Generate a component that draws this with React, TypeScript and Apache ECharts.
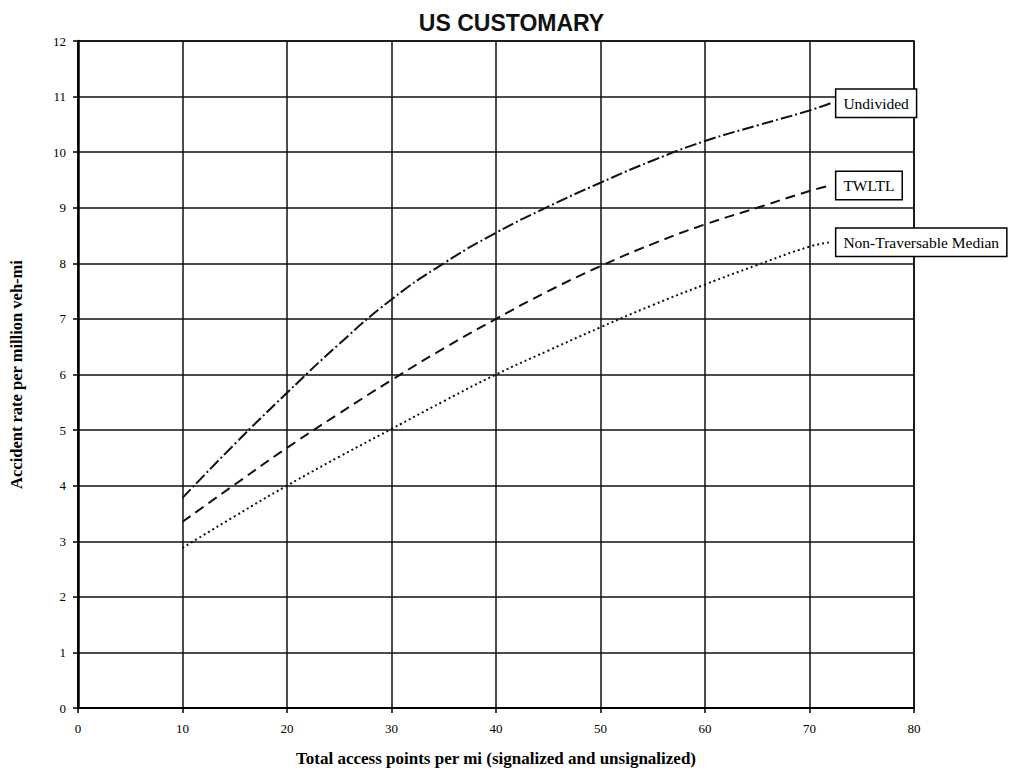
import React, { useEffect, useRef } from "react";
import * as echarts from "echarts";

const xValues = [10, 15, 20, 25, 30, 35, 40, 45, 50, 55, 60, 65, 70, 72];
const undivided = [3.78, 4.75, 5.67, 6.55, 7.35, 8.0, 8.55, 9.02, 9.45, 9.85, 10.2, 10.48, 10.75, 10.88];
const twltl = [3.35, 4.02, 4.68, 5.3, 5.9, 6.47, 7.0, 7.5, 7.95, 8.35, 8.7, 9.0, 9.3, 9.4];
const ntm = [2.88, 3.45, 4.0, 4.52, 5.02, 5.52, 6.0, 6.43, 6.85, 7.25, 7.62, 7.97, 8.3, 8.38];
const seriesNames = ["Undivided", "TWLTL", "Non-Traversable Median"];

export default function App() {
  const ref = useRef<HTMLDivElement>(null);
  useEffect(() => {
    const chart = echarts.init(ref.current!, undefined, { renderer: "svg" });
    const mk = (name: string, vals: number[], dash: number[]) => ({
      name,
      type: "line",
      data: xValues.map((x, i) => [x, vals[i]]),
      smooth: true,
      showSymbol: false,
      lineStyle: { color: "#111", width: 2, type: dash },
      endLabel: {
        show: true,
        formatter: name,
        distance: 6,
        color: "#000",
        fontFamily: "Liberation Serif",
        fontSize: 15.5,
        backgroundColor: "#fff",
        borderColor: "#000",
        borderWidth: 1.5,
        padding: [6, 7, 5, 7],
      },
    });
    chart.setOption({
      animation: false,
      backgroundColor: "#fff",
      title: {
        text: "US CUSTOMARY",
        left: "center",
        top: 6,
        textStyle: { fontFamily: "Liberation Sans", fontWeight: "bold", fontSize: 23, color: "#111" },
      },
      grid: {
        left: 78,
        right: 109,
        top: 41,
        bottom: 66,
        show: true,
        borderColor: "#000",
        borderWidth: 1.5,
        containLabel: false,
        outerBoundsMode: "none",
      },
      xAxis: {
        type: "value",
        min: 0,
        max: 80,
        interval: 10,
        name: "Total access points per mi (signalized and unsignalized)",
        nameLocation: "middle",
        nameGap: 42,
        nameTextStyle: { fontFamily: "Liberation Serif", fontWeight: "bold", fontSize: 17, color: "#000" },
        axisLine: { show: true, lineStyle: { color: "#000", width: 2 } },
        axisTick: { show: true, length: 5, lineStyle: { color: "#000", width: 1.5 } },
        axisLabel: { fontFamily: "Liberation Serif", fontSize: 13, color: "#000", margin: 14 },
        splitLine: { show: true, lineStyle: { color: "#111", width: 1.5 } },
      },
      yAxis: {
        type: "value",
        min: 0,
        max: 12,
        interval: 1,
        name: "Accident rate per million veh-mi",
        nameLocation: "middle",
        nameGap: 53,
        nameRotate: 90,
        nameTextStyle: { fontFamily: "Liberation Serif", fontWeight: "bold", fontSize: 16.5, color: "#000" },
        axisLine: { show: true, lineStyle: { color: "#000", width: 2.5 } },
        axisTick: { show: true, length: 5, lineStyle: { color: "#000", width: 1.5 } },
        axisLabel: { fontFamily: "Liberation Serif", fontSize: 13, color: "#000", margin: 12 },
        splitLine: { show: true, lineStyle: { color: "#111", width: 1.5 } },
      },
      series: [
        mk(seriesNames[0], undivided, [12, 3, 2, 3]),
        mk(seriesNames[1], twltl, [10, 6]),
        mk(seriesNames[2], ntm, [2, 3]),
      ],
    });
    return () => chart.dispose();
  }, []);
  return (
    <div
      ref={ref}
      style={{ position: "fixed", left: 0, top: 0, width: 1023, height: 774, background: "#fff" }}
    />
  );
}
